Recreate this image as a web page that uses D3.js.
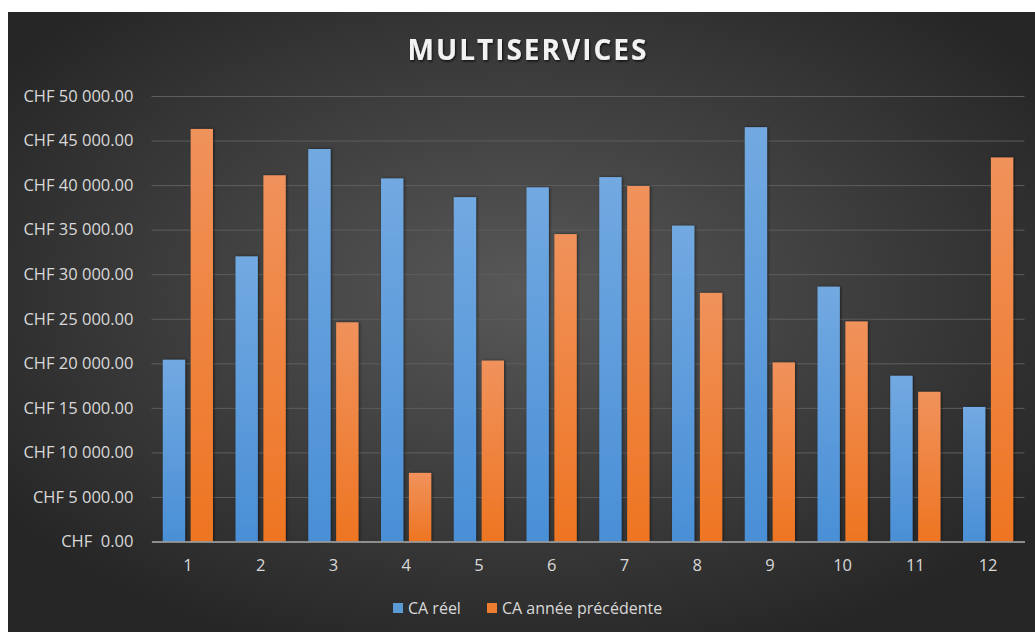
<!DOCTYPE html>
<html>
<head>
<meta charset="utf-8">
<script src="https://d3js.org/d3.v7.min.js"></script>
<style>
  body { margin: 0; background: #fff; }
  text { font-family: "Open Sans", sans-serif; }
</style>
</head>
<body>
<div id="graf"></div>
<script>
// Multiservices - CA réel vs année précédente

const mois = ['1', '2', '3', '4', '5', '6', '7', '8', '9', '10', '11', '12']
const caReel = [20400, 32000, 44050, 40750, 38650, 39750, 40900, 35450, 46500, 28600, 18600, 15100]
const caPrec = [46300, 41100, 24600, 7700, 20300, 34500, 39900, 27900, 20100, 24700, 16800, 43100]
const series = ['CA réel', 'CA année précédente']
const yTicks = [0, 5000, 10000, 15000, 20000, 25000, 30000, 35000, 40000, 45000, 50000]
const yLabels = ['CHF\u00a0\u00a00.00', 'CHF 5 000.00', 'CHF 10 000.00', 'CHF 15 000.00', 'CHF 20 000.00',
  'CHF 25 000.00', 'CHF 30 000.00', 'CHF 35 000.00', 'CHF 40 000.00', 'CHF 45 000.00', 'CHF 50 000.00']

const ancho_total = 1035
const alto_total = 632
const margins = { top: 96, left: 151.5, right: 10.5, bottom: 90.5 }
const ancho = ancho_total - margins.left - margins.right
const alto = alto_total - margins.top - margins.bottom

const svg = d3.select('#graf').append('svg')
  .attr('width', ancho_total)
  .attr('height', alto_total)
  .style('display', 'block')

const defs = svg.append('defs')

// fondo oscuro con degradado radial
const bg = defs.append('radialGradient').attr('id', 'bg')
  .attr('cx', '50%').attr('cy', '45%').attr('r', '62%')
bg.append('stop').attr('offset', '0%').attr('stop-color', '#585858')
bg.append('stop').attr('offset', '100%').attr('stop-color', '#262626')

const grads = [['gBlue', '#72a9e1', '#4a8fd6'], ['gOrange', '#f0925c', '#ee7522']]
grads.forEach(([id, c1, c2]) => {
  const lg = defs.append('linearGradient').attr('id', id)
    .attr('x1', 0).attr('y1', 0).attr('x2', 0).attr('y2', 1)
  lg.append('stop').attr('offset', '0%').attr('stop-color', c1)
  lg.append('stop').attr('offset', '100%').attr('stop-color', c2)
})

const sombra = defs.append('filter').attr('id', 'sombra')
  .attr('x', '-30%').attr('y', '-10%').attr('width', '160%').attr('height', '120%')
sombra.append('feDropShadow').attr('dx', 1).attr('dy', 0).attr('stdDeviation', 1.5)
  .attr('flood-color', '#000').attr('flood-opacity', 0.55)

const sombraTxt = defs.append('filter').attr('id', 'sombraTxt')
sombraTxt.append('feDropShadow').attr('dx', 1).attr('dy', 1.5).attr('stdDeviation', 1.2)
  .attr('flood-color', '#000').attr('flood-opacity', 0.7)

svg.append('rect')
  .attr('x', 8).attr('y', 12)
  .attr('width', ancho_total - 8).attr('height', alto_total - 12)
  .attr('fill', 'url(#bg)')

// titulo
svg.append('text')
  .attr('x', 528).attr('y', 60)
  .attr('text-anchor', 'middle')
  .attr('font-size', 28).attr('font-weight', 'bold')
  .attr('letter-spacing', 2)
  .attr('fill', '#f2f2f2')
  .attr('filter', 'url(#sombraTxt)')
  .text('MULTISERVICES')

const g = svg.append('g')
  .attr('transform', `translate(${margins.left}, ${margins.top})`)

// escaladores
const x0 = d3.scaleBand().domain(mois).range([0, ancho])
  .paddingInner(0.31).paddingOuter(0.155)
const x1 = d3.scaleBand().domain(series).range([0, x0.bandwidth()]).paddingInner(0.2)
const y = d3.scaleLinear().domain([0, 50000]).range([alto, 0])
const color = d3.scaleOrdinal().domain(series).range(['url(#gBlue)', 'url(#gOrange)'])
const colorLeyenda = d3.scaleOrdinal().domain(series).range(['#5b9bd5', '#ed7d31'])

// ejes
const yAxis = g.append('g')
  .call(d3.axisLeft(y).tickValues(yTicks).tickSize(-ancho).tickPadding(18)
    .tickFormat((d, i) => yLabels[i]))
yAxis.select('.domain').remove()
yAxis.selectAll('line').attr('stroke', '#5e5e5e').attr('stroke-width', 1)
yAxis.selectAll('text').attr('fill', '#d9d9d9').attr('font-size', 16.5)

const xAxis = g.append('g')
  .attr('transform', `translate(0, ${alto})`)
  .call(d3.axisBottom(x0).tickSize(0).tickPadding(18))
xAxis.select('.domain').attr('stroke', '#a6a6a6').attr('stroke-width', 1.5)
xAxis.selectAll('text').attr('fill', '#d9d9d9').attr('font-size', 16.5)

// barras
const datos = mois.map((m, i) => ({ mes: m, valores: [caReel[i], caPrec[i]] }))

const grupos = g.selectAll('.mes').data(datos).enter().append('g')
  .attr('transform', d => `translate(${x0(d.mes)}, 0)`)

grupos.selectAll('rect')
  .data(d => d.valores.map((v, j) => ({ serie: series[j], value: v })))
  .enter().append('rect')
  .attr('x', d => x1(d.serie))
  .attr('width', x1.bandwidth())
  .attr('y', d => y(d.value))
  .attr('height', d => alto - y(d.value))
  .attr('fill', d => color(d.serie))
  .attr('filter', 'url(#sombra)')

xAxis.raise()

// leyenda
const leyenda = svg.append('g').attr('transform', 'translate(393, 603)')
const posLeyenda = [0, 94]
series.forEach((s, i) => {
  const it = leyenda.append('g').attr('transform', `translate(${posLeyenda[i]}, 0)`)
  it.append('rect').attr('width', 10).attr('height', 10).attr('fill', colorLeyenda(s))
  it.append('text').attr('x', 15).attr('y', 11)
    .attr('fill', '#d9d9d9').attr('font-size', 16)
    .text(s)
})
</script>
</body>
</html>
